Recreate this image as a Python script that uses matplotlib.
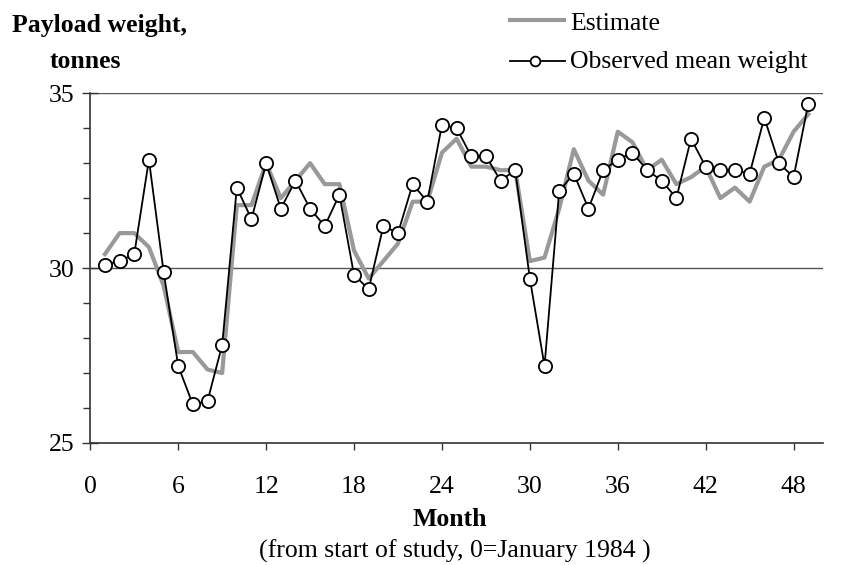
import numpy as np
import matplotlib.pyplot as plt
from matplotlib.lines import Line2D
from matplotlib.ticker import MultipleLocator

plt.rcParams['font.family'] = ['Liberation Serif', 'DejaVu Serif']

months = np.arange(1, 50)

observed = [30.1, 30.2, 30.4, 33.1, 29.9, 27.2, 26.1, 26.2, 27.8, 32.3,
            31.4, 33.0, 31.7, 32.5, 31.7, 31.2, 32.1, 29.8, 29.4, 31.2,
            31.0, 32.4, 31.9, 34.1, 34.0, 33.2, 33.2, 32.5, 32.8, 29.7,
            27.2, 32.2, 32.7, 31.7, 32.8, 33.1, 33.3, 32.8, 32.5, 32.0,
            33.7, 32.9, 32.8, 32.8, 32.7, 34.3, 33.0, 32.6, 34.7]

estimate = [30.4, 31.0, 31.0, 30.6, 29.5, 27.6, 27.6, 27.1, 27.0, 31.8,
            31.8, 33.0, 32.0, 32.5, 33.0, 32.4, 32.4, 30.5, 29.7, 30.2,
            30.7, 31.9, 31.9, 33.3, 33.7, 32.9, 32.9, 32.8, 32.8, 30.2,
            30.3, 31.7, 33.4, 32.5, 32.1, 33.9, 33.6, 32.8, 33.1, 32.4,
            32.6, 32.9, 32.0, 32.3, 31.9, 32.9, 33.1, 33.9, 34.4]

gray = '#999999'
fs = 18.5
W, H = 844, 565

fig = plt.figure(figsize=(8.44, 5.65), dpi=100)
ax = fig.add_axes([0.107, 0.216, 0.868, 0.619])

for yv in [30, 35]:
    ax.axhline(yv, color='#555555', lw=1.0, zorder=1)

ax.plot(months, estimate, color=gray, lw=3.0, zorder=2)
ax.plot(months, observed, color='black', lw=1.3, marker='o', ms=9.5,
        mfc='white', mec='black', mew=1.3, zorder=3)

ax.set_xlim(0, 50)
ax.set_ylim(25, 35)
ax.set_xticks(np.arange(0, 49, 6))
ax.set_yticks([25, 30, 35])
ax.yaxis.set_minor_locator(MultipleLocator(1))
ax.tick_params(axis='both', labelsize=fs, color='#333333', width=1.0)
ax.tick_params(axis='x', direction='out', length=5, pad=19)
ax.tick_params(axis='y', which='major', direction='inout', length=11, pad=6)
ax.tick_params(axis='y', which='minor', direction='out', length=5, width=1.0, color='#333333')

for s in ['top', 'right']:
    ax.spines[s].set_visible(False)
for s in ['left', 'bottom']:
    ax.spines[s].set_color('#333333')
    ax.spines[s].set_linewidth(1.2)

fig.text(12 / W, 1 - 32 / H, 'Payload weight,', fontsize=fs, fontweight='bold',
         ha='left', va='baseline')
fig.text(50 / W, 1 - 68 / H, 'tonnes', fontsize=fs, fontweight='bold',
         ha='left', va='baseline')

fig.text(450 / W, 1 - 526 / H, 'Month', fontsize=fs, fontweight='bold',
         ha='center', va='baseline')
fig.text(455 / W, 1 - 558 / H, '(from start of study, 0=January 1984 )', fontsize=fs,
         ha='center', va='baseline')

# legend drawn by hand in figure coordinates
fig.add_artist(Line2D([510 / W, 564 / W], [1 - 20 / H, 1 - 20 / H],
                      color=gray, lw=3.0, transform=fig.transFigure))
fig.text(570 / W, 1 - 30 / H, 'Estimate', fontsize=fs, ha='left', va='baseline')
fig.add_artist(Line2D([510 / W, 565 / W], [1 - 61 / H, 1 - 61 / H],
                      color='black', lw=1.3, transform=fig.transFigure))
fig.add_artist(Line2D([535 / W], [1 - 61 / H], marker='o', ms=7, mfc='white',
                      mec='black', mew=1.3, transform=fig.transFigure))
fig.text(570 / W, 1 - 68 / H, 'Observed mean weight', fontsize=fs, ha='left', va='baseline')

fig.savefig('out.png', dpi=100)
